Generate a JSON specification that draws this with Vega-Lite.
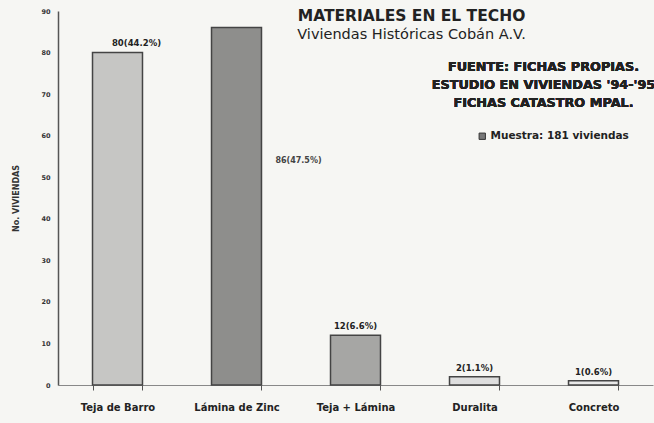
{
  "$schema": "https://vega.github.io/schema/vega-lite/v6.json",
  "width": 595,
  "height": 374,
  "autosize": "none",
  "padding": {"left": 58, "top": 11, "right": 1, "bottom": 38},
  "background": "#f6f6f3",
  "config": {"font": "DejaVu Sans", "view": {"stroke": null}},
  "title": {
    "text": "MATERIALES EN EL TECHO",
    "subtitle": "Viviendas Históricas Cobán A.V.",
    "anchor": "middle",
    "dx": 56,
    "offset": -33,
    "fontSize": 15.5,
    "fontWeight": "bold",
    "color": "#222",
    "subtitleFontSize": 14.5,
    "subtitleFontWeight": "normal",
    "subtitleColor": "#222",
    "subtitlePadding": 3
  },
  "data": {
    "values": [
      {"material": "Teja de Barro", "viviendas": 80, "etiqueta": "80(44.2%)", "serie": "Muestra: 181 viviendas"},
      {"material": "Lámina de Zinc", "viviendas": 86, "etiqueta": "86(47.5%)", "serie": "Muestra: 181 viviendas"},
      {"material": "Teja + Lámina", "viviendas": 12, "etiqueta": "12(6.6%)", "serie": "Muestra: 181 viviendas"},
      {"material": "Duralita", "viviendas": 2, "etiqueta": "2(1.1%)", "serie": "Muestra: 181 viviendas"},
      {"material": "Concreto", "viviendas": 1, "etiqueta": "1(0.6%)", "serie": "Muestra: 181 viviendas"}
    ]
  },
  "encoding": {
    "x": {
      "field": "material",
      "type": "nominal",
      "sort": null,
      "scale": {"paddingInner": 0.58, "paddingOuter": 0.29},
      "axis": {
        "title": null,
        "labelAngle": 0,
        "tickBand": "extent",
        "tickSize": 5,
        "tickColor": "#555",
        "domainColor": "#888",
        "domainWidth": 1.2,
        "labelFontSize": 10,
        "labelFontWeight": "bold",
        "labelColor": "#222",
        "labelPadding": 12
      }
    }
  },
  "layer": [
    {
      "mark": {"type": "bar", "stroke": "#444", "strokeWidth": 1.5},
      "encoding": {
        "y": {
          "field": "viviendas",
          "type": "quantitative",
          "scale": {"domain": [0, 90], "nice": false},
          "axis": {
            "values": [0, 10, 20, 30, 40, 50, 60, 70, 80, 90],
            "grid": false,
            "ticks": false,
            "labelFontSize": 6.5,
            "labelFontWeight": "bold",
            "labelColor": "#333",
            "labelPadding": 8,
            "domainColor": "#555",
            "domainWidth": 1.5,
            "title": "No.  VIVIENDAS",
            "titleFontSize": 8,
            "titleFontWeight": "bold",
            "titleColor": "#333",
            "titleX": -38
          }
        },
        "fill": {
          "field": "material",
          "type": "nominal",
          "scale": {
            "domain": ["Teja de Barro", "Lámina de Zinc", "Teja + Lámina", "Duralita", "Concreto"],
            "range": ["#c6c6c4", "#8e8e8c", "#a6a6a4", "#dedede", "#e8e8e8"]
          },
          "legend": null
        }
      }
    },
    {
      "mark": {"type": "point", "shape": "square", "filled": true, "opacity": 0},
      "encoding": {
        "y": {"field": "viviendas", "type": "quantitative"},
        "color": {
          "field": "serie",
          "type": "nominal",
          "scale": {"range": ["#777"]},
          "legend": {
            "title": null,
            "orient": "none",
            "legendX": 419,
            "legendY": 120,
            "symbolType": "square",
            "symbolSize": 40,
            "symbolOpacity": 1,
            "symbolStrokeColor": "#333",
            "symbolStrokeWidth": 1,
            "labelFontSize": 10.5,
            "labelFontWeight": "bold",
            "labelColor": "#222",
            "labelOffset": 3
          }
        }
      }
    },
    {
      "transform": [{"filter": "datum.material != 'Lámina de Zinc' && datum.material != 'Teja de Barro'"}],
      "mark": {"type": "text", "dy": -6, "baseline": "alphabetic", "fontSize": 8.5, "fontWeight": "bold", "color": "#222"},
      "encoding": {
        "y": {"field": "viviendas", "type": "quantitative"},
        "text": {"field": "etiqueta"}
      }
    },
    {
      "transform": [{"filter": "datum.material == 'Teja de Barro'"}],
      "mark": {"type": "text", "dy": -7, "dx": 19, "baseline": "alphabetic", "fontSize": 8.5, "fontWeight": "bold", "color": "#222"},
      "encoding": {
        "y": {"field": "viviendas", "type": "quantitative"},
        "text": {"field": "etiqueta"}
      }
    },
    {
      "transform": [{"filter": "datum.material == 'Lámina de Zinc'"}],
      "mark": {"type": "text", "dx": 62, "baseline": "middle", "fontSize": 8, "fontWeight": "bold", "color": "#444"},
      "encoding": {
        "y": {"datum": 54},
        "text": {"field": "etiqueta"}
      }
    },
    {
      "mark": {
        "type": "text",
        "text": ["FUENTE: FICHAS PROPIAS.", "ESTUDIO EN VIVIENDAS '94-'95", "FICHAS CATASTRO MPAL."],
        "dx": -50,
        "baseline": "middle",
        "align": "center",
        "lineHeight": 18,
        "fontSize": 12.8,
        "fontWeight": "bold",
        "color": "#222"
      },
      "encoding": {
        "x": {"datum": "Concreto"},
        "y": {"datum": 76.5}
      }
    }
  ]
}
